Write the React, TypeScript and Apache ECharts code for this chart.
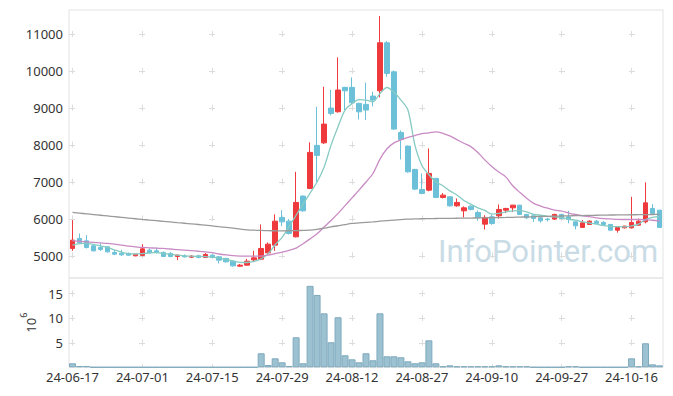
import React, { useEffect, useRef } from "react";
import * as echarts from "echarts";

const dates = [
  "24-06-17","24-06-18","24-06-19","24-06-20","24-06-21",
  "24-06-24","24-06-25","24-06-26","24-06-27","24-06-28",
  "24-07-01","24-07-02","24-07-03","24-07-04","24-07-05",
  "24-07-08","24-07-09","24-07-10","24-07-11","24-07-12",
  "24-07-15","24-07-16","24-07-17","24-07-18","24-07-19",
  "24-07-22","24-07-23","24-07-24","24-07-25","24-07-26",
  "24-07-29","24-07-30","24-07-31","24-08-01","24-08-02",
  "24-08-05","24-08-06","24-08-07","24-08-08","24-08-09",
  "24-08-12","24-08-13","24-08-14","24-08-16","24-08-19",
  "24-08-20","24-08-21","24-08-22","24-08-23","24-08-26",
  "24-08-27","24-08-28","24-08-29","24-08-30","24-09-02",
  "24-09-03","24-09-04","24-09-05","24-09-06","24-09-09",
  "24-09-10","24-09-11","24-09-12","24-09-13","24-09-19",
  "24-09-20","24-09-23","24-09-24","24-09-25","24-09-26",
  "24-09-27","24-09-30","24-10-02","24-10-04","24-10-07",
  "24-10-08","24-10-10","24-10-11","24-10-14","24-10-15",
  "24-10-16","24-10-17","24-10-18","24-10-21","24-10-22",
];

const openVals = [
  5200,5472,5407,5271,5228, 5244,5092,5073,5065,5000,
  5011,5154,5135,5092,5065, 4984,5000,4965,5000,4957,
  5019,4973,4930,4856,4721, 4748,4892,4910,5081,5290,
  6041,5940,5515,6618,6826, 7992,8062,9003,8903,9564,
  9564,9130,9103,9328,9472, 10772,9986,8344,7973,7341,
  6799,6780,7098,6583,6599, 6355,6220,6347,6176,5859,
  6057,6084,6238,6301,6374, 6122,6084,6030,5995,5995,
  6122,6057,5922,5770,5851, 5940,5905,5851,5696,5759,
  5759,5832,5922,6284,6238,
];
const closeVals = [
  5425,5352,5228,5135,5173, 5108,5046,5027,5019,5046,
  5190,5081,5092,4984,4984, 5019,4973,4992,4957,5038,
  4957,4883,4837,4729,4748, 4856,4946,5200,5317,5940,
  5921,5607,6447,6220,7802, 7721,8569,8859,9492,9472,
  9146,8902,8949,9220,10772, 9943,8434,8154,7276,6808,
  6691,7233,6583,6645,6355, 6447,6301,6257,6030,6041,
  5878,6257,6284,6374,6122, 6030,6013,5949,5981,6122,
  6013,5986,5813,5894,5940, 5878,5851,5696,5770,5805,
  5905,5940,6436,6149,5770,
];
const lowVals = [
  5135,5317,5200,5120,5135, 5090,5019,5000,5005,4990,
  4992,5065,5065,4970,4960, 4883,4955,4940,4935,4940,
  4930,4794,4820,4710,4710, 4740,4860,4883,5065,5135,
  5805,5580,5500,6195,6808, 7005,8030,8805,8880,8949,
  9100,8697,8677,9050,9293, 9851,8420,7612,7250,6780,
  6670,6750,6560,6555,6330, 6330,6040,6230,5950,5715,
  5840,6010,6160,6190,6110, 6000,5920,5900,5930,5970,
  5995,5880,5715,5760,5840, 5860,5820,5690,5630,5740,
  5740,5820,5880,6140,5760,
];
const highVals = [
  5967,5607,5561,5290,5336, 5263,5154,5163,5092,5050,
  5317,5200,5228,5120,5100, 5030,5040,5020,5030,5075,
  5040,4990,4945,4883,4780, 4919,5135,5851,5363,6122,
  6238,5995,7276,6640,8073, 9038,9580,9499,10377,9580,
  9835,9150,9689,9444,11496, 10818,10020,8400,7990,7360,
  7233,7910,7110,6700,6610, 6555,6340,6370,6230,6100,
  6120,6393,6300,6380,6380, 6140,6090,6040,6030,6140,
  6140,6220,5930,5970,5960, 5970,5940,5860,5780,5815,
  6599,6010,6989,6401,6238,
];

// trading volume, millions of shares
const volumes = [
  0.82,0.27,0.27,0.01,0.01, 0.01,0.01,0.01,0.01,0.01,
  0.01,0.01,0.01,0.01,0.01, 0.01,0.01,0.01,0.01,0.01,
  0.01,0.01,0.01,0.01,0.01, 0.01,0.01,2.86,0.47,1.83,
  1.02,0.27,6.12,0.82,16.6, 14.75,11.0,5.1,10.2,2.45,
  1.63,1.02,2.86,1.43,11.0, 2.24,2.24,2.04,1.22,0.82,
  1.02,5.5,0.82,0.2,0.4, 0.2,0.2,0.2,0.2,0.2,
  0.2,0.4,0.2,0.2,0.2, 0.2,0.01,0.01,0.01,0.01,
  0.01,0.2,0.2,0.01,0.01, 0.01,0.01,0.01,0.01,0.01,
  1.83,0.2,4.9,0.6,0.4,
];

const ma5 = [
  5290,5330,5340,5310,5270, 5230,5160,5100,5060,5050,
  5060,5080,5090,5070,5040, 5020,5000,4990,4985,4980,
  4965,4940,4900,4855,4825, 4820,4850,4920,5060,5300,
  5500,5800,6100,6400,6700, 7000,7400,8000,8500,8950,
  9120,9230,9220,9175,9400, 9560,9430,9220,8950,8000,
  7450,7200,7000,6900,6760, 6650,6500,6400,6300,6230,
  6130,6150,6190,6220,6225, 6190,6120,6100,6070,6055,
  6040,5990,5967,5920,5890, 5860,5820,5800,5790,5786,
  5810,5860,5980,6040,6060,
];
const ma20 = [
  5410,5395,5380,5365,5350, 5336,5315,5290,5265,5245,
  5228,5218,5208,5200,5185, 5170,5155,5140,5125,5108,
  5085,5050,5025,5005,4995, 4990,4990,4995,5020,5060,
  5100,5150,5210,5330,5460, 5600,5780,5960,6150,6360,
  6570,6780,7000,7230,7620, 7900,8060,8140,8210,8260,
  8310,8330,8360,8320,8250, 8150,8050,7960,7800,7600,
  7420,7270,7140,6900,6720, 6560,6420,6350,6290,6240,
  6210,6160,6120,6085,6060, 6030,6010,6000,5990,5985,
  5985,5985,5975,5965,5950,
];
const ma120 = [
  6176,6157,6138,6119,6100, 6081,6062,6043,6024,6005,
  5986,5969,5952,5935,5918, 5900,5883,5866,5849,5831,
  5813,5790,5770,5750,5725, 5705,5695,5688,5682,5679,
  5678,5680,5684,5690,5698, 5720,5750,5786,5815,5848,
  5878,5893,5908,5922,5938, 5955,5970,5982,5994,6002,
  6006,6009,6012,6013,6015, 6018,6021,6024,6027,6030,
  6033,6036,6040,6045,6050, 6055,6060,6066,6071,6076,
  6080,6084,6088,6092,6096, 6100,6103,6106,6108,6110,
  6113,6115,6118,6120,6122,
];

const FONT = "'Noto Sans', Roboto, sans-serif";
const GRID_LINE = "#dcdcdc";

export default function App() {
  const ref = useRef<HTMLDivElement>(null);
  useEffect(() => {
    if (!ref.current) return;
    const chart = echarts.init(ref.current, null, { renderer: "svg" });
    const candleData = dates.map((_, i) => [openVals[i], closeVals[i], lowVals[i], highVals[i]]);
    const xCommon = {
      type: "category" as const,
      data: dates,
      boundaryGap: true,
      axisLine: { show: false },
      axisTick: { show: false },
    };
    const plain = (v: number) => String(v);
    chart.setOption({
      animation: false,
      textStyle: { fontFamily: FONT },
      grid: [
        { left: 69, top: 10, right: 10, height: 268, show: true, borderColor: "#e3e3e3", borderWidth: 1, backgroundColor: "transparent" },
        { left: 69, top: 278, right: 10, height: 89.3, show: true, borderColor: "#e3e3e3", borderWidth: 1, backgroundColor: "transparent" },
      ],
      xAxis: [
        {
          ...xCommon,
          gridIndex: 0,
          axisLabel: { show: false, interval: 9 },
          splitLine: {
            show: true,
            interval: 9,
            alignWithLabel: true,
            lineStyle: { color: GRID_LINE, width: 1, type: [6, 30.9], dashOffset: 15.5 },
          },
        },
        {
          ...xCommon,
          gridIndex: 1,
          axisLabel: { show: true, interval: 9, color: "#333", fontSize: 13, margin: 3, fontFamily: FONT },
          splitLine: {
            show: true,
            interval: 9,
            alignWithLabel: true,
            lineStyle: { color: GRID_LINE, width: 1, type: [6, 18.53], dashOffset: 11.8 },
          },
        },
      ],
      yAxis: [
        {
          type: "value",
          gridIndex: 0,
          min: 4400,
          max: 11660,
          splitNumber: 7,
          axisLine: { show: false },
          axisTick: { show: false },
          axisLabel: { color: "#333", fontSize: 13, margin: 6, showMinLabel: false, showMaxLabel: false, fontFamily: FONT, formatter: plain },
          splitLine: {
            show: true,
            showMinLine: false,
            showMaxLine: false,
            lineStyle: { color: GRID_LINE, width: 1, type: [6, 64], dashOffset: 0 },
          },
        },
        {
          type: "value",
          gridIndex: 1,
          min: 0,
          max: 18.2,
          splitNumber: 4,
          name: "{a|10}{b|6}",
          nameLocation: "middle",
          nameRotate: 90,
          nameGap: 28,
          nameTextStyle: {
            color: "#333",
            fontFamily: FONT,
            rich: {
              a: { fontSize: 13, color: "#333", fontFamily: FONT, lineHeight: 18, verticalAlign: "bottom" },
              b: { fontSize: 9, color: "#333", fontFamily: FONT, lineHeight: 18, verticalAlign: "top" },
            },
          },
          axisLine: { show: false },
          axisTick: { show: false },
          axisLabel: { color: "#333", fontSize: 13, margin: 6, showMinLabel: false, showMaxLabel: false, fontFamily: FONT, formatter: plain },
          splitLine: {
            show: true,
            showMinLine: false,
            showMaxLine: false,
            lineStyle: { color: GRID_LINE, width: 1, type: [6, 64], dashOffset: 0 },
          },
        },
      ],
      graphic: [
        {
          type: "text",
          left: 438,
          top: 236,
          z: 0,
          silent: true,
          style: {
            text: "InfoPointer.com",
            fill: "#c9dce6",
            font: "31px Roboto, 'Noto Sans', sans-serif",
          },
        },
      ],
      series: [
        {
          name: "candle",
          type: "candlestick",
          xAxisIndex: 0,
          yAxisIndex: 0,
          data: candleData,
          barWidth: 5,
          itemStyle: {
            color: "#ef3a3d",
            color0: "#6cc1d8",
            borderColor: "#ef3a3d",
            borderColor0: "#6cc1d8",
            borderWidth: 1,
          },
          z: 3,
        },
        {
          name: "MA5",
          type: "line",
          xAxisIndex: 0,
          yAxisIndex: 0,
          data: ma5,
          showSymbol: false,
          smooth: 0.3,
          lineStyle: { color: "#86cbc2", width: 1.3 },
          z: 4,
        },
        {
          name: "MA20",
          type: "line",
          xAxisIndex: 0,
          yAxisIndex: 0,
          data: ma20,
          showSymbol: false,
          smooth: 0.3,
          lineStyle: { color: "#c98bc4", width: 1.3 },
          z: 4,
        },
        {
          name: "MA120",
          type: "line",
          xAxisIndex: 0,
          yAxisIndex: 0,
          data: ma120,
          showSymbol: false,
          smooth: 0.3,
          lineStyle: { color: "#9a9a9a", width: 1.3 },
          z: 4,
        },
        {
          name: "volume",
          type: "bar",
          xAxisIndex: 1,
          yAxisIndex: 1,
          data: volumes,
          barCategoryGap: "0%",
          itemStyle: { color: "#9cc2d2", borderColor: "#7ea9bd", borderWidth: 1 },
        },
      ],
    });
    return () => chart.dispose();
  }, []);
  return (
    <div
      ref={ref}
      style={{ position: "fixed", left: 0, top: 0, width: 673, height: 396, background: "#fff" }}
    />
  );
}
